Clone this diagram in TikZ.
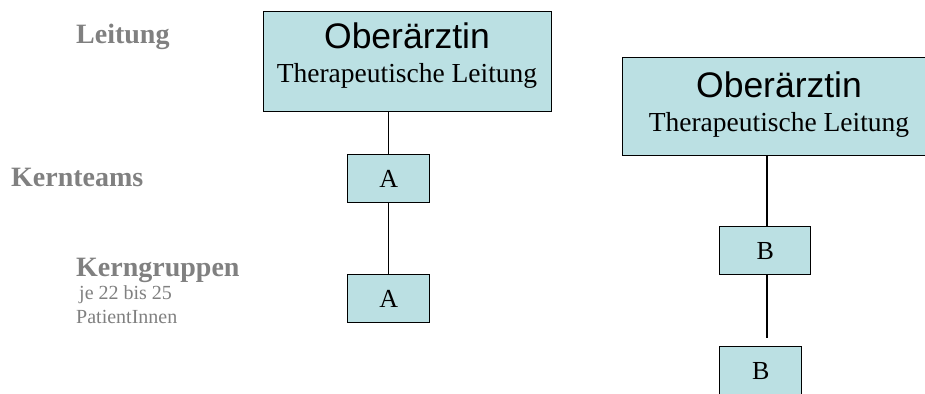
\documentclass[tikz,border=0pt]{standalone}
\usepackage{fontspec}
\setmainfont{Liberation Serif}
\newfontfamily\arialfont{Liberation Sans}
\definecolor{boxfill}{HTML}{BBE0E3}
\definecolor{labelgray}{HTML}{808080}
\begin{document}
\begin{tikzpicture}[x=1pt,y=-1pt,
  box/.style={draw=black, fill=boxfill, line width=1.4pt, inner sep=0pt, anchor=north west},
  conn/.style={line width=1.4pt},
  lbl/.style={text=labelgray, font=\bfseries\fontsize{28}{30}\selectfont, anchor=base west, inner sep=0pt},
  sublbl/.style={text=labelgray, font=\fontsize{20}{22}\selectfont, anchor=base west, inner sep=0pt},
  big/.style={font=\arialfont\fontsize{35.5}{38}\selectfont, anchor=base, inner sep=0pt},
  ther/.style={font=\fontsize{27.5}{30}\selectfont, anchor=base, inner sep=0pt},
  letter/.style={font=\fontsize{26}{28}\selectfont}]
\useasboundingbox (0,0) rectangle (925,393);
\clip (0,0) rectangle (925,393);

% left labels
\node[lbl] (leit) at (76,43.5) {Leitung};
\node[lbl] (kteam) at (11,186.7) {Kernteams};
\node[lbl] (kgrp) at (76,276) {Kerngruppen};
\node[sublbl] (je) at (79,299.3) {je 22 bis 25};
\node[sublbl] (pat) at (76,323.3) {PatientInnen};

% left column
\node[box, minimum width=288pt, minimum height=100pt] (ltop) at (263,11) {};
\node[big] (ltopa) at (407,48.3) {Oberärztin};
\node[ther] (ltopb) at (407,83) {Therapeutische Leitung};
\node[box, letter, minimum width=82pt, minimum height=48pt] (la1) at (347,154) {A};
\node[box, letter, minimum width=82pt, minimum height=48pt] (la2) at (347,274) {A};

% right column
\node[box, minimum width=314pt, minimum height=98pt] (rtop) at (622,57) {};
\node[big] (rtopa) at (779,97.7) {Oberärztin};
\node[ther] (rtopb) at (779,131) {Therapeutische Leitung};
\node[box, letter, minimum width=91pt, minimum height=48pt] (rb1) at (719,226) {B};
\node[box, letter, minimum width=82pt, minimum height=48pt] (rb2) at (719,346) {B};

% connectors
\draw[conn] (ltop.south -| la1.north) -- (la1.north);
\draw[conn] (la1.south) -- (la2.north);
\coordinate (rx) at (767,0);
\coordinate (rend) at (767,338);
\draw[conn] (rtop.south -| rx) -- (rb1.north -| rx);
\draw[conn] (rb1.south -| rx) -- (rend);
\end{tikzpicture}
\end{document}
